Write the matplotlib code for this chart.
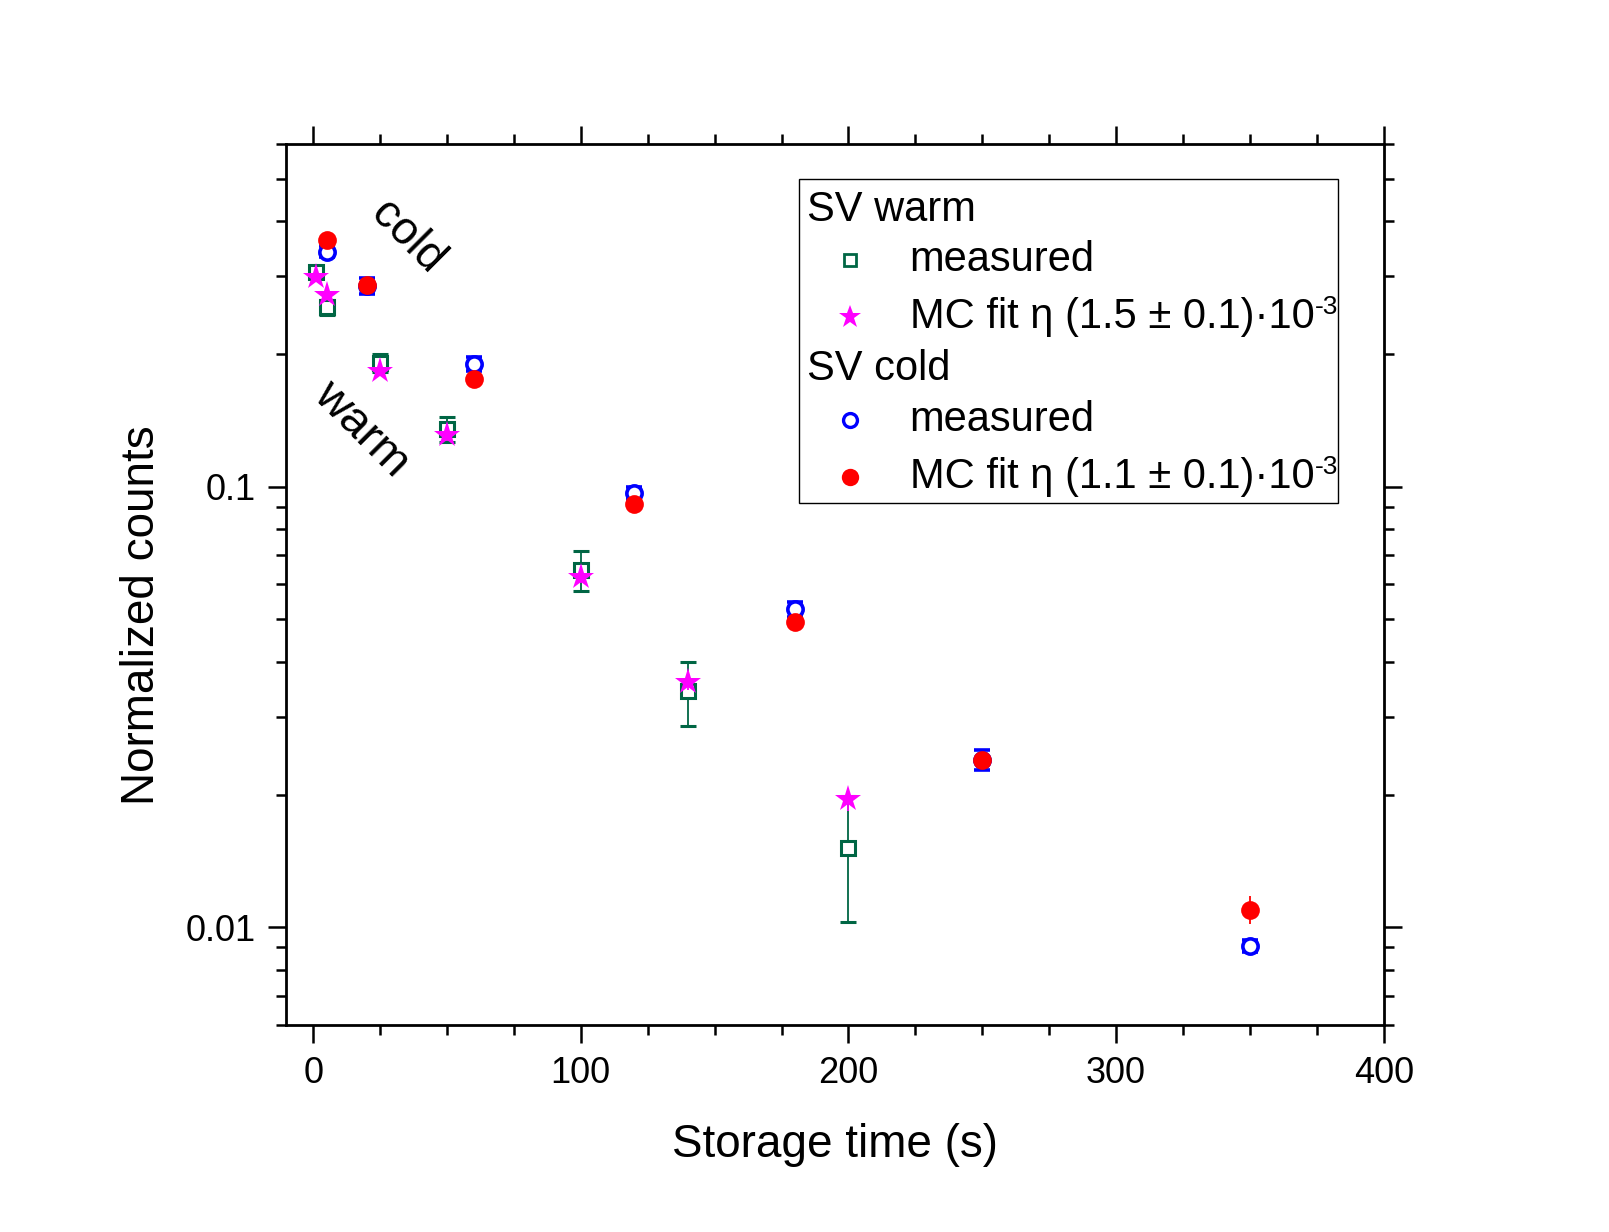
import matplotlib
matplotlib.use("Agg")
import matplotlib.pyplot as plt
from matplotlib.ticker import FixedLocator, NullFormatter, LogLocator, MultipleLocator
from matplotlib.patches import Rectangle

plt.rcParams['font.family'] = ['Liberation Sans', 'DejaVu Sans']

# SV warm measured
warm_x = [1, 5, 25, 50, 100, 140, 200]
warm_y = [0.307, 0.255, 0.191, 0.135, 0.0647, 0.0343, 0.0151]
warm_err = [0.010, 0.010, 0.009, 0.009, 0.0069, 0.0057, 0.0048]

# SV warm MC fit
warmfit_x = [1, 5, 25, 50, 100, 140, 200]
warmfit_y = [0.299, 0.272, 0.183, 0.131, 0.0625, 0.0360, 0.0195]
warmfit_err = [0.006, 0.006, 0.005, 0.004, 0.002, 0.0015, 0.0011]

# SV cold measured
cold_x = [5, 20, 60, 120, 180, 250, 350]
cold_y = [0.341, 0.285, 0.190, 0.0968, 0.0527, 0.0240, 0.00907]
cold_err = [0.010, 0.012, 0.007, 0.003, 0.002, 0.0012, 0.0003]

# SV cold MC fit
coldfit_x = [5, 20, 60, 120, 180, 250, 350]
coldfit_y = [0.362, 0.287, 0.1755, 0.0913, 0.0494, 0.0240, 0.01097]
coldfit_err = [0.006, 0.006, 0.003, 0.0015, 0.001, 0.0010, 0.00078]

x_ticks = [0, 100, 200, 300, 400]
y_tick_labels = {0.01: "0.01", 0.1: "0.1"}

GREEN = '#006644'
MAGENTA = '#FF00FF'
BLUE = '#0000FF'
RED = '#FF0000'

fig = plt.figure(figsize=(16.09, 12.32), dpi=100)
ax = fig.add_axes([0.178, 0.168, 0.682, 0.7154])

ax.set_yscale('log')
ax.set_xlim(-10, 400)
ax.set_ylim(0.006, 0.6)

ax.errorbar(warm_x, warm_y, yerr=warm_err, fmt='s', ms=9.5, mfc='white', mec=GREEN,
            mew=2.2, ecolor=GREEN, elinewidth=1.3, capsize=6, capthick=1.3, zorder=3)
ax.errorbar(cold_x, cold_y, yerr=cold_err, fmt='o', ms=11, mfc='white', mec=BLUE,
            mew=2.6, ecolor=BLUE, elinewidth=1.3, capsize=6, capthick=1.8, zorder=3)
ax.errorbar(warmfit_x, warmfit_y, yerr=warmfit_err, fmt='*', ms=20, mfc=MAGENTA, mec=MAGENTA,
            mew=0, ecolor=MAGENTA, elinewidth=1.3, capsize=6, capthick=1.3, zorder=4)
ax.errorbar(coldfit_x, coldfit_y, yerr=coldfit_err, fmt='o', ms=13.5, mfc=RED, mec=RED,
            mew=0, ecolor=RED, elinewidth=1.3, capsize=6, capthick=1.5, zorder=4)

# ticks
ax.xaxis.set_major_locator(FixedLocator(x_ticks))
ax.xaxis.set_minor_locator(MultipleLocator(25))
ax.yaxis.set_major_locator(FixedLocator(list(y_tick_labels.keys())))
ax.yaxis.set_major_formatter(matplotlib.ticker.FuncFormatter(lambda v, p: y_tick_labels.get(round(v, 6), "")))
ax.yaxis.set_minor_locator(LogLocator(base=10, subs=[2, 3, 4, 5, 6, 7, 8, 9], numticks=20))
ax.yaxis.set_minor_formatter(NullFormatter())

ax.tick_params(which='both', direction='out', top=True, right=True, width=1.8, labelsize=26)
ax.tick_params(which='major', length=13, pad=9)
ax.tick_params(which='minor', length=7)
for s in ax.spines.values():
    s.set_linewidth(2.0)

ax.set_xlabel('Storage time (s)', fontsize=33)
ax.set_ylabel('Normalized counts', fontsize=33)
ax.xaxis.set_label_coords(0.5, -0.111)
ax.yaxis.set_label_coords(-0.112, 0.465)

# annotations
ax.text(35, 0.368, 'cold', rotation=-45, fontsize=33, ha='center', va='center')
ax.text(18, 0.135, 'warm', rotation=-45, fontsize=34, ha='center', va='center')

# manual legend
tr = ax.transAxes
ax.add_patch(Rectangle((0.467, 0.592), 0.491, 0.368, transform=tr, fill=False,
                       edgecolor='black', linewidth=1.0, zorder=5))
fs = 30
ax.text(0.474, 0.925, 'SV warm', transform=tr, fontsize=fs, va='center', ha='left', zorder=6)
ax.text(0.474, 0.744, 'SV cold', transform=tr, fontsize=fs, va='center', ha='left', zorder=6)
rows = [
    (0.868, 's', 'white', GREEN, 8.5, 2.0, 'measured', None),
    (0.803, '*', MAGENTA, MAGENTA, 17, 0, 'MC fit η (1.5 ± 0.1)·10', '-3'),
    (0.686, 'o', 'white', BLUE, 10, 2.4, 'measured', None),
    (0.622, 'o', RED, RED, 12.5, 0, 'MC fit η (1.1 ± 0.1)·10', '-3'),
]
for y, m, fc, ec, ms, mew, label, sup in rows:
    ax.plot([0.514], [y], marker=m, ms=ms, mfc=fc, mec=ec, mew=mew, linestyle='none',
            transform=tr, zorder=6, clip_on=False)
    t = ax.text(0.568, y, label, transform=tr, fontsize=fs, va='center', ha='left', zorder=6)
    if sup:
        ax.annotate(sup, xy=(1, 1), xycoords=t, xytext=(0.5, 1.5), textcoords='offset points',
                    fontsize=19, ha='left', va='top', zorder=6)

fig.savefig('out.png', dpi=100)
